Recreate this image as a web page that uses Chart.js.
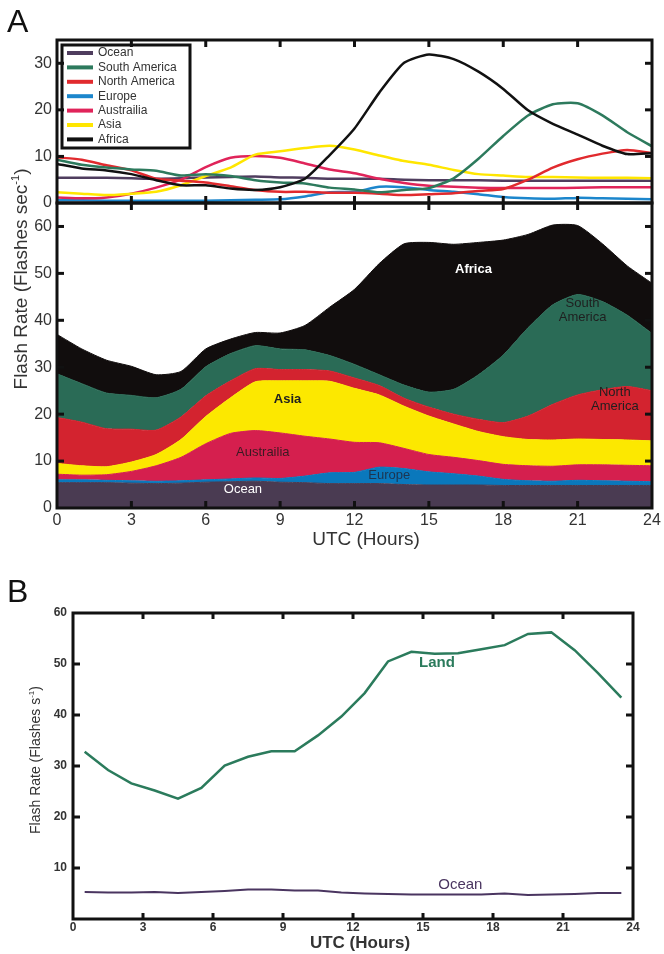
<!DOCTYPE html>
<html>
<head>
<meta charset="utf-8">
<script src="https://cdn.jsdelivr.net/npm/chart.js@4.4.1/dist/chart.umd.min.js"></script>
<style>
    body { margin: 0; background: #fff; }
    #wrap { position: relative; width: 664px; height: 954px; }
    canvas { position: absolute; left: 0; }
</style>
</head>
<body>
<div id="wrap">
    <canvas id="chartA" width="664" height="560" style="top:0"></canvas>
    <canvas id="chartB" width="664" height="394" style="top:560px"></canvas>
</div>
<script>
// ---- data (panel A: hourly, UTC 0..24) ----
var hours = [0, 1, 2, 3, 4, 5, 6, 7, 8, 9, 10, 11, 12, 13, 14, 15, 16, 17, 18, 19, 20, 21, 22, 23, 24];

var regionNames = ['Ocean', 'Europe', 'Austrailia', 'Asia', 'North America', 'South America', 'Africa'];
var legendNames = ['Ocean', 'South America', 'North America', 'Europe', 'Austrailia', 'Asia', 'Africa'];

var oceanRate = [5.4, 5.4, 5.4, 5.3, 5.2, 5.3, 5.5, 5.6, 5.7, 5.5, 5.4, 5.2, 5.2, 5.2, 5.0, 4.9, 4.9, 4.9, 4.8, 4.8, 4.8, 4.8, 4.8, 4.8, 4.8];
var europeRate = [0.6, 0.6, 0.5, 0.5, 0.5, 0.5, 0.5, 0.6, 0.7, 0.8, 1.4, 2.3, 2.4, 3.5, 3.4, 2.8, 2.4, 1.9, 1.3, 1.0, 0.9, 1.1, 1.0, 0.9, 0.8];
var australiaRate = [1.2, 1.0, 1.2, 2.0, 3.3, 5.0, 7.7, 9.7, 10.1, 9.7, 8.5, 7.2, 6.4, 5.2, 4.3, 3.7, 3.5, 3.3, 3.2, 3.2, 3.2, 3.3, 3.4, 3.4, 3.4];
var asiaRate = [2.3, 2.0, 1.7, 2.0, 2.4, 3.8, 5.8, 7.6, 10.4, 11.1, 11.8, 12.3, 11.5, 10.2, 9.0, 8.2, 7.1, 6.2, 5.9, 5.6, 5.6, 5.5, 5.4, 5.4, 5.3];
var northAmericaRate = [9.8, 9.3, 8.1, 7.0, 5.2, 4.8, 4.4, 3.6, 2.8, 2.4, 2.4, 2.2, 2.2, 2.0, 1.7, 1.9, 2.1, 2.6, 3.0, 5.0, 7.6, 9.4, 10.6, 11.4, 10.7];
var southAmericaRate = [9.3, 8.2, 7.6, 7.2, 6.9, 5.9, 6.2, 5.8, 4.9, 4.4, 4.2, 3.3, 2.9, 2.3, 2.8, 3.2, 5.3, 9.5, 14.4, 18.8, 21.2, 21.4, 18.8, 15.2, 12.2];
var africaRate = [8.4, 7.4, 7.0, 6.2, 4.9, 3.8, 3.8, 3.1, 2.8, 3.4, 5.2, 10.3, 16.0, 23.7, 30.1, 31.9, 30.9, 28.2, 24.5, 19.9, 17.0, 14.7, 12.3, 10.5, 10.7];

// ---- data (panel B: half-hour bins) ----
var halfHours = [0.5, 1.5, 2.5, 3.5, 4.5, 5.5, 6.5, 7.5, 8.5, 9.5, 10.5, 11.5, 12.5, 13.5, 14.5, 15.5, 16.5, 17.5, 18.5, 19.5, 20.5, 21.5, 22.5, 23.5];
var landTotal = [32.8, 29.2, 26.6, 25.2, 23.6, 25.7, 30.1, 31.8, 32.9, 32.9, 36.0, 39.7, 44.3, 50.5, 52.4, 52.0, 52.1, 52.9, 53.7, 55.9, 56.2, 52.7, 48.2, 43.4];
var oceanTotal = [5.3, 5.2, 5.2, 5.3, 5.1, 5.3, 5.5, 5.8, 5.8, 5.6, 5.6, 5.2, 5.0, 4.9, 4.8, 4.8, 4.8, 4.8, 5.0, 4.7, 4.8, 4.9, 5.1, 5.1];

// ---- tick labels ----
var topPanelTicks = [0, 10, 20, 30];
var stackPanelTicks = [0, 10, 20, 30, 40, 50, 60];
var panelBTicks = [0, 10, 20, 30, 40, 50, 60];

// colours, same order as regionNames
var fillColors = ['#4a3b52', '#0a78bc', '#d51f4e', '#fce800', '#d3232f', '#2a6b56', '#110d0d'];
var lineColors = ['#4f3d5e', '#1c86cc', '#e0245a', '#ffe600', '#e12a2e', '#2d7a5d', '#111111'];

var FONT = "'Liberation Sans', Arial, Helvetica, sans-serif";
Chart.defaults.font.family = FONT;

function toPoints(xs, ys) {
    return xs.map(function (x, i) { return { x: x, y: ys[i] }; });
}

// replace the generated ticks with a fixed list
function fixedTicks(values) {
    return function (scale) {
        scale.ticks = values.map(function (v) { return { value: v }; });
    };
}

function tickLine(ctx, x1, y1, x2, y2) {
    ctx.beginPath();
    ctx.moveTo(x1, y1);
    ctx.lineTo(x2, y2);
    ctx.stroke();
}

function text(ctx, str, x, y, font, color, align) {
    ctx.font = font;
    ctx.fillStyle = color;
    ctx.textAlign = align || 'center';
    ctx.textBaseline = 'middle';
    ctx.fillText(str, x, y);
}

// rotated axis title with a "-1" superscript
function yTitle(ctx, x, y, main, tail, size) {
    ctx.save();
    ctx.translate(x, y);
    ctx.rotate(-Math.PI / 2);
    ctx.fillStyle = '#333';
    ctx.textBaseline = 'alphabetic';
    ctx.textAlign = 'left';
    ctx.font = size + 'px ' + FONT;
    var w1 = ctx.measureText(main).width;
    var w3 = ctx.measureText(tail).width;
    ctx.font = Math.round(size * 0.6) + 'px ' + FONT;
    var w2 = ctx.measureText('-1').width;
    var start = -(w1 + w2 + w3) / 2;
    ctx.fillText('-1', start + w1, -size * 0.42);
    ctx.font = size + 'px ' + FONT;
    ctx.fillText(main, start, 0);
    ctx.fillText(tail, start + w1 + w2, 0);
    ctx.restore();
}

// draws frames, inward ticks, legend and labels of panel A
var panelAPlugin = {
    id: 'panelA',
    afterDraw: function (chart) {
        var ctx = chart.ctx, area = chart.chartArea;
        var xs = chart.scales.x, yT = chart.scales.yTop, yB = chart.scales.yBot;
        ctx.save();
        ctx.strokeStyle = '#111';
        ctx.lineWidth = 3;
        [yT, yB].forEach(function (s) {
            ctx.strokeRect(area.left, s.top, area.right - area.left, s.bottom - s.top);
            xs.ticks.forEach(function (t) {
                if (t.value <= 0 || t.value >= 24) return;
                var px = xs.getPixelForValue(t.value);
                tickLine(ctx, px, s.top, px, s.top + 7);
                tickLine(ctx, px, s.bottom, px, s.bottom - 7);
            });
            s.ticks.forEach(function (t) {
                var py = s.getPixelForValue(t.value);
                if (py <= s.top + 1 || py >= s.bottom - 1) return;
                tickLine(ctx, area.left, py, area.left + 7, py);
                tickLine(ctx, area.right, py, area.right - 7, py);
            });
        });

        // legend box inside the top panel
        ctx.lineWidth = 3;
        ctx.strokeRect(62, 45, 128, 103);
        legendNames.forEach(function (name, i) {
            var y = 53 + i * 14.4;
            ctx.strokeStyle = lineColors[regionNames.indexOf(name)];
            ctx.lineWidth = 4;
            tickLine(ctx, 67, y, 93, y);
            text(ctx, name, 98, y, '12px ' + FONT, '#333', 'left');
        });

        // labels on the stacked areas
        function at(h, v, str, color, bold) {
            text(ctx, str, xs.getPixelForValue(h), yB.getPixelForValue(v),
                (bold ? 'bold ' : '') + '13px ' + FONT, color, 'center');
        }
        at(16.8, 50.8, 'Africa', '#fff', true);
        at(21.2, 43.5, 'South', '#1f1f1f');
        at(21.2, 40.6, 'America', '#1f1f1f');
        at(22.5, 24.6, 'North', '#1f1f1f');
        at(22.5, 21.6, 'America', '#1f1f1f');
        at(9.3, 23.2, 'Asia', '#1f1f1f', true);
        at(8.3, 11.9, 'Austrailia', '#3a1a22');
        at(7.5, 4.0, 'Ocean', '#fff');
        at(13.4, 7.0, 'Europe', '#1d3550');

        // titles
        ctx.font = '19px ' + FONT;
        ctx.fillStyle = '#333';
        ctx.textAlign = 'center';
        ctx.textBaseline = 'alphabetic';
        ctx.fillText('UTC (Hours)', 366, 545);
        yTitle(ctx, 27, 279, 'Flash Rate (Flashes sec', ')', 19);
        ctx.font = '32px ' + FONT;
        ctx.fillStyle = '#111';
        ctx.textAlign = 'left';
        ctx.fillText('A', 7, 32);
        ctx.restore();
    }
};

// panel B frame, ticks and labels
var panelBPlugin = {
    id: 'panelB',
    afterDraw: function (chart) {
        var ctx = chart.ctx, area = chart.chartArea;
        var xs = chart.scales.x, ys = chart.scales.y;
        ctx.save();
        ctx.strokeStyle = '#111';
        ctx.lineWidth = 3;
        ctx.strokeRect(area.left, area.top, area.right - area.left, area.bottom - area.top);
        xs.ticks.forEach(function (t) {
            if (t.value <= 0 || t.value >= 24) return;
            var px = xs.getPixelForValue(t.value);
            tickLine(ctx, px, area.top, px, area.top + 6);
            tickLine(ctx, px, area.bottom, px, area.bottom - 6);
        });
        ys.ticks.forEach(function (t) {
            if (t.value <= 0 || t.value >= 60) return;
            var py = ys.getPixelForValue(t.value);
            tickLine(ctx, area.left, py, area.left + 7, py);
            tickLine(ctx, area.right, py, area.right - 7, py);
        });
        text(ctx, 'Land', xs.getPixelForValue(15.6), ys.getPixelForValue(50.2), 'bold 15px ' + FONT, '#2b7b5c');
        text(ctx, 'Ocean', xs.getPixelForValue(16.6), ys.getPixelForValue(6.7), '15px ' + FONT, '#4a3560');

        ctx.font = 'bold 17px ' + FONT;
        ctx.fillStyle = '#333';
        ctx.textAlign = 'center';
        ctx.textBaseline = 'alphabetic';
        ctx.fillText('UTC (Hours)', 360, 388);
        yTitle(ctx, 40, 200, 'Flash Rate (Flashes s', ')', 14);
        ctx.font = '32px ' + FONT;
        ctx.fillStyle = '#111';
        ctx.textAlign = 'left';
        ctx.fillText('B', 7, 42);
        ctx.restore();
    }
};

// ---- panel A: regional lines on top, stacked areas below ----
var rates = [oceanRate, europeRate, australiaRate, asiaRate, northAmericaRate, southAmericaRate, africaRate];
var datasetsA = [];
rates.forEach(function (r, i) {
    datasetsA.push({
        label: regionNames[i],
        data: toPoints(hours, r),
        yAxisID: 'yBot',
        stack: 'regions',
        fill: i === 0 ? 'origin' : '-1',
        backgroundColor: fillColors[i],
        borderColor: fillColors[i],
        borderWidth: 1,
        pointRadius: 0,
        tension: 0.2
    });
});
// the first dataset is drawn last, so reverse to keep Africa on top
for (var i = rates.length - 1; i >= 0; i--) {
    datasetsA.push({
        label: regionNames[i],
        data: toPoints(hours, rates[i]),
        yAxisID: 'yTop',
        fill: false,
        borderColor: lineColors[i],
        borderWidth: 2.5,
        pointRadius: 0,
        tension: 0.2
    });
}

var tickFontA = { size: 16 };
new Chart(document.getElementById('chartA').getContext('2d'), {
    type: 'line',
    data: { datasets: datasetsA },
    options: {
        responsive: false,
        animation: false,
        events: [],
        layout: { padding: { left: 0, right: 12, top: 40, bottom: 0 }, autoPadding: false },
        plugins: { legend: { display: false }, tooltip: { enabled: false } },
        scales: {
            x: {
                type: 'linear', min: 0, max: 24,
                ticks: { stepSize: 3, padding: 3, color: '#333', font: tickFontA, maxRotation: 0, autoSkip: false },
                grid: { display: false, drawTicks: false },
                border: { display: false },
                afterFit: function (s) { s.height = 52; }
            },
            yBot: {
                type: 'linear', position: 'left', stack: 'panelA', stackWeight: 305,
                min: 0, max: 65, stacked: true,
                ticks: { padding: 5, color: '#333', font: tickFontA, autoSkip: false },
                grid: { display: false, drawTicks: false },
                border: { display: false },
                afterBuildTicks: fixedTicks(stackPanelTicks),
                afterFit: function (s) { s.width = 57; }
            },
            yTop: {
                type: 'linear', position: 'left', stack: 'panelA', stackWeight: 163,
                min: 0, max: 35,
                ticks: { padding: 5, color: '#333', font: tickFontA, autoSkip: false },
                grid: { display: false, drawTicks: false },
                border: { display: false },
                afterBuildTicks: fixedTicks(topPanelTicks),
                afterFit: function (s) { s.width = 57; }
            }
        }
    },
    plugins: [panelAPlugin]
});

// ---- panel B: land vs ocean totals ----
var tickFontB = { size: 12, weight: 'bold' };
new Chart(document.getElementById('chartB').getContext('2d'), {
    type: 'line',
    data: {
        datasets: [{
            label: 'Land',
            data: toPoints(halfHours, landTotal),
            borderColor: '#2b7b5c',
            borderWidth: 2.5,
            pointRadius: 0,
            fill: false
        }, {
            label: 'Ocean',
            data: toPoints(halfHours, oceanTotal),
            borderColor: '#4a3560',
            borderWidth: 2,
            pointRadius: 0,
            fill: false
        }]
    },
    options: {
        responsive: false,
        animation: false,
        events: [],
        layout: { padding: { left: 0, right: 31, top: 53, bottom: 0 }, autoPadding: false },
        plugins: { legend: { display: false }, tooltip: { enabled: false } },
        scales: {
            x: {
                type: 'linear', min: 0, max: 24,
                ticks: { stepSize: 3, padding: 1, color: '#333', font: tickFontB, maxRotation: 0, autoSkip: false },
                grid: { display: false, drawTicks: false },
                border: { display: false },
                afterFit: function (s) { s.height = 35; }
            },
            y: {
                type: 'linear', min: 0, max: 60,
                ticks: {
                    padding: 6, color: '#333', font: tickFontB, autoSkip: false,
                    callback: function (value) { return value === 0 ? '' : value; }
                },
                grid: { display: false, drawTicks: false },
                border: { display: false },
                afterBuildTicks: fixedTicks(panelBTicks),
                afterFit: function (s) { s.width = 73; }
            }
        }
    },
    plugins: [panelBPlugin]
});
</script>
</body>
</html>
